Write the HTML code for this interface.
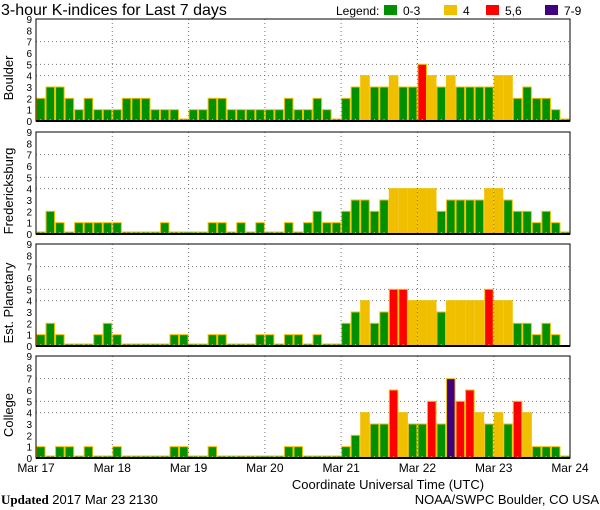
<!DOCTYPE html>
<html><head><meta charset="utf-8"><style>
html,body{margin:0;padding:0;background:#fff;}
svg{display:block;font-family:"Liberation Sans",sans-serif;}
</style></head><body>
<svg id="chart" width="600" height="510" viewBox="0 0 600 510">
<text x="1" y="15" font-size="16">3-hour K-indices for Last 7 days</text>
<g font-size="12">
<text x="336" y="15">Legend:</text>
<rect x="384" y="5" width="13" height="10" fill="#009000"/>
<text x="403" y="15">0-3</text>
<rect x="444" y="5" width="13" height="10" fill="#f0c000"/>
<text x="463" y="15">4</text>
<rect x="486" y="5" width="13" height="10" fill="#ff0000"/>
<text x="505" y="15">5,6</text>
<rect x="545" y="5" width="13" height="10" fill="#400080"/>
<text x="564" y="15">7-9</text>
</g>
<text x="388" y="489" font-size="13" text-anchor="middle">Coordinate Universal Time (UTC)</text>
<text x="1" y="504" font-size="13"><tspan font-weight="bold" font-family="Liberation Serif,serif">Updated</tspan> 2017 Mar 23 2130</text>
<text x="599" y="504" font-size="13" text-anchor="end">NOAA/SWPC Boulder, CO USA</text>
</svg>
<script>
const stations = ["Boulder","Fredericksburg","Est. Planetary","College"];
const boulder = [2,3,3,2,1,2,1,1, 1,2,2,2,1,1,1,0, 1,1,2,2,1,1,1,1, 1,1,2,1,1,2,1,0, 2,3,4,3,3,4,3,3, 5,4,3,4,3,3,3,3, 4,4,2,3,2,2,1,0];
const fredericksburg = [0,2,1,0,1,1,1,1, 1,0,0,0,0,1,0,0, 0,0,1,1,0,1,0,1, 0,0,1,0,1,2,1,1, 2,3,3,2,3,4,4,4, 4,4,2,3,3,3,3,4, 4,3,2,2,1,2,1,0];
const planetary = [1,2,1,0,0,0,1,2, 1,0,0,0,0,0,1,1, 0,0,1,1,0,0,0,1, 1,0,1,1,0,1,0,0, 2,3,4,2,3,5,5,4, 4,4,3,4,4,4,4,5, 4,4,2,2,1,2,1,null];
const college = [1,0,1,1,0,1,0,0, 1,0,0,0,0,0,1,1, 0,0,1,0,0,0,0,0, 0,0,1,1,0,0,0,0, 1,2,4,3,3,6,4,3, 3,5,3,7,5,6,4,3, 4,3,5,4,1,1,1,0];
const dayLabels = ["Mar 17","Mar 18","Mar 19","Mar 20","Mar 21","Mar 22","Mar 23","Mar 24"];
const yTicks = [0,1,2,3,4,5,6,7,8,9];
const gridLevels = [4,5,7];
const series = [boulder,fredericksburg,planetary,college];

const NS="http://www.w3.org/2000/svg";
const svg=document.getElementById('chart');
const X0=36,X1=570,PH=102;
const tops=[19,132,244,356];
const nBars=56;
const bw=(X1-X0)/nBars;
function xs(i){return X0+i*bw;}
function ys(top,k){return top+PH-k*PH/9;}
function mk(tag,attrs,parent){const e=document.createElementNS(NS,tag);for(const k in attrs)e.setAttribute(k,attrs[k]);(parent||svg).appendChild(e);return e;}
function color(k){return k<=3?"#009000":k==4?"#f0c000":k<=6?"#ff0000":"#400080";}

series.forEach((data,p)=>{
  const top=tops[p],bot=top+PH;
  const g=mk('g',{});
  
  
  gridLevels.forEach(l=>{
    const ln=mk('line',{x1:X0,x2:X1,y1:ys(top,l),y2:ys(top,l),stroke:"#777","stroke-dasharray":"1,3"},g);
    
    
  });
  data.forEach((k,i)=>{
    if(k===null) return;
    const h=k===0?2:k*PH/9;
    const r=mk('rect',{x:xs(i)+0.5,y:bot-h,width:bw-1,height:h,fill:color(k),stroke:"#f0c000","stroke-width":1},g);
    
    
    const t=mk('line',{x1:xs(i)+bw/2,x2:xs(i)+bw/2,y1:bot-2,y2:bot,stroke:"#f0c000"},g);
    
    
  });
  for(let d=1;d<7;d++){
    const ln=mk('line',{x1:xs(d*8),x2:xs(d*8),y1:top,y2:bot,stroke:"#777","stroke-dasharray":"1,3"},g);
    
    
  }
  const f=mk('rect',{x:X0,y:top,width:X1-X0,height:PH,fill:"none",stroke:"#000","stroke-width":1},g);
  
  
  const b=mk('line',{x1:X0,x2:X1,y1:bot,y2:bot,stroke:"#000","stroke-width":2},g);
  
  
  yTicks.forEach(v=>{
    const t=mk('text',{x:32,y:ys(top,v)+4,"font-size":10,"text-anchor":"end"},g);
    t.textContent=v;
    
    
  });
  const tt=mk('text',{x:0,y:0,"font-size":13,"text-anchor":"middle",transform:`translate(13,${top+PH/2+8}) rotate(-90)`},g);
  tt.textContent=stations[p];
  
  
});
dayLabels.forEach((l,d)=>{
  const t=mk('text',{x:xs(d*8),y:472,"font-size":12,"text-anchor":"middle"});
  t.textContent=l;
  
  
});
</script>
</body></html>
